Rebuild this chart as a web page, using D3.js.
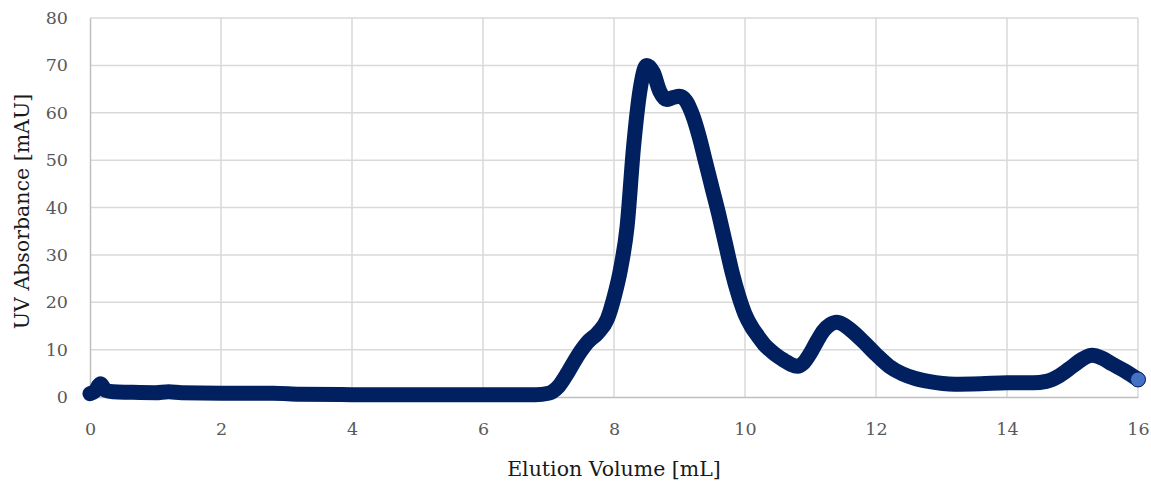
<!DOCTYPE html>
<html>
<head>
<meta charset="utf-8">
<script src="https://cdn.jsdelivr.net/npm/d3@7"></script>
<style>
  html, body { margin: 0; padding: 0; background: #ffffff; }
  svg { display: block; }
</style>
</head>
<body>
<svg id="chart" width="1151" height="483"></svg>
<script>
// Elution volume (mL) and UV absorbance (mAU) of the chromatogram trace
const volume = [0, 0.08, 0.16, 0.24, 0.35, 0.6, 1.0, 1.2, 1.4, 2.0, 2.8, 3.2, 4, 5, 6, 6.8,
  7.0, 7.15, 7.3, 7.45, 7.6, 7.75, 7.9, 8.0, 8.1, 8.2, 8.3, 8.4, 8.5, 8.6, 8.7, 8.8, 8.9,
  9.0, 9.1, 9.2, 9.3, 9.4, 9.5, 9.6, 9.7, 9.8, 9.9, 10.0, 10.1, 10.2, 10.3, 10.4, 10.5,
  10.6, 10.7, 10.8, 10.9, 11.0, 11.1, 11.2, 11.3, 11.4, 11.5, 11.6, 11.8, 12.0, 12.2,
  12.4, 12.6, 12.8, 13.2, 13.6, 14.0, 14.4, 14.6, 14.8, 15.0, 15.15, 15.3, 15.45, 15.6,
  15.8, 16.0];
const absorbance = [0.7, 1.3, 2.8, 1.4, 1.1, 1.0, 0.9, 1.1, 0.9, 0.8, 0.8, 0.6, 0.5, 0.5, 0.5, 0.5,
  0.8, 2.2, 5.3, 8.8, 11.6, 13.5, 16.5, 21, 27, 36, 53, 65, 70, 68.5, 64.5, 62.8, 63.2,
  63.5, 62.5, 59.5, 55, 49.5, 44, 38.5, 32.5, 26.5, 21.5, 17.5, 14.8, 12.8, 11.0, 9.7, 8.6,
  7.7, 6.9, 6.5, 7.3, 9.3, 11.8, 14.0, 15.3, 15.8, 15.3, 14.3, 11.8, 9.0, 6.5,
  4.9, 3.9, 3.3, 2.7, 2.8, 3.0, 3.0, 3.3, 4.5, 6.5, 8.0, 8.8, 8.2, 7.0,
  5.5, 3.7];
const xTicks = [0, 2, 4, 6, 8, 10, 12, 14, 16];
const yTicks = [0, 10, 20, 30, 40, 50, 60, 70, 80];
const xTitle = "Elution Volume [mL]";
const yTitle = "UV Absorbance [mAU]";

const svg = d3.select("#chart");
const margin = { left: 90, right: 13, top: 18, bottom: 86 };
const W = 1151, H = 483;
const x = d3.scaleLinear().domain([0, 16]).range([margin.left, W - margin.right]);
const y = d3.scaleLinear().domain([0, 80]).range([H - margin.bottom, margin.top]);

const fontFamily = "'DejaVu Serif', 'Liberation Serif', serif";

// Gridlines
const grid = svg.append("g");
grid.selectAll("line.h").data(yTicks.filter(d => d > 0)).join("line")
  .attr("x1", x(0)).attr("x2", x(16))
  .attr("y1", d => y(d)).attr("y2", d => y(d))
  .attr("stroke", "#d9d9d9").attr("stroke-width", 1.5);
grid.selectAll("line.v").data(xTicks.filter(d => d > 0)).join("line")
  .attr("x1", d => x(d)).attr("x2", d => x(d))
  .attr("y1", y(0)).attr("y2", y(80))
  .attr("stroke", "#d9d9d9").attr("stroke-width", 1.5);

// Y axis
const yAxis = svg.append("g")
  .attr("transform", `translate(${x(0)},0)`)
  .call(d3.axisLeft(y).tickValues(yTicks).tickSize(0).tickPadding(22));
yAxis.select(".domain").attr("stroke", "#bfbfbf").attr("stroke-width", 1.5);
yAxis.selectAll("text").attr("font-family", fontFamily).attr("font-size", 17.5)
  .attr("fill", "#595959");

// X axis
const xAxis = svg.append("g")
  .attr("transform", `translate(0,${y(0)})`)
  .call(d3.axisBottom(x).tickValues(xTicks).tickSize(0).tickPadding(26));
xAxis.select(".domain").attr("stroke", "#bfbfbf").attr("stroke-width", 1.5);
xAxis.selectAll("text").attr("font-family", fontFamily).attr("font-size", 17.5)
  .attr("fill", "#595959");

// Axis titles
svg.append("text")
  .attr("x", 614).attr("y", 476)
  .attr("text-anchor", "middle")
  .attr("font-family", fontFamily).attr("font-size", 20.5).attr("fill", "#1a1a1a")
  .text(xTitle);
svg.append("text")
  .attr("transform", `translate(29,${(y(0) + y(80)) / 2 + 4}) rotate(-90)`)
  .attr("text-anchor", "middle")
  .attr("font-family", fontFamily).attr("font-size", 20.5).attr("fill", "#1a1a1a")
  .text(yTitle);

// Chromatogram trace
const pts = volume.map((v, i) => [v, absorbance[i]]);
const line = d3.line()
  .x(d => x(d[0])).y(d => y(d[1]))
  .curve(d3.curveMonotoneX);
svg.append("path")
  .datum(pts)
  .attr("d", line)
  .attr("fill", "none")
  .attr("stroke", "#002060")
  .attr("stroke-width", 15)
  .attr("stroke-linecap", "round")
  .attr("stroke-linejoin", "round");

// End-point marker
const last = pts[pts.length - 1];
svg.append("circle")
  .attr("cx", x(last[0])).attr("cy", y(last[1])).attr("r", 7.5)
  .attr("fill", "#4472c4").attr("stroke", "#002060").attr("stroke-width", 1);
</script>
</body>
</html>
